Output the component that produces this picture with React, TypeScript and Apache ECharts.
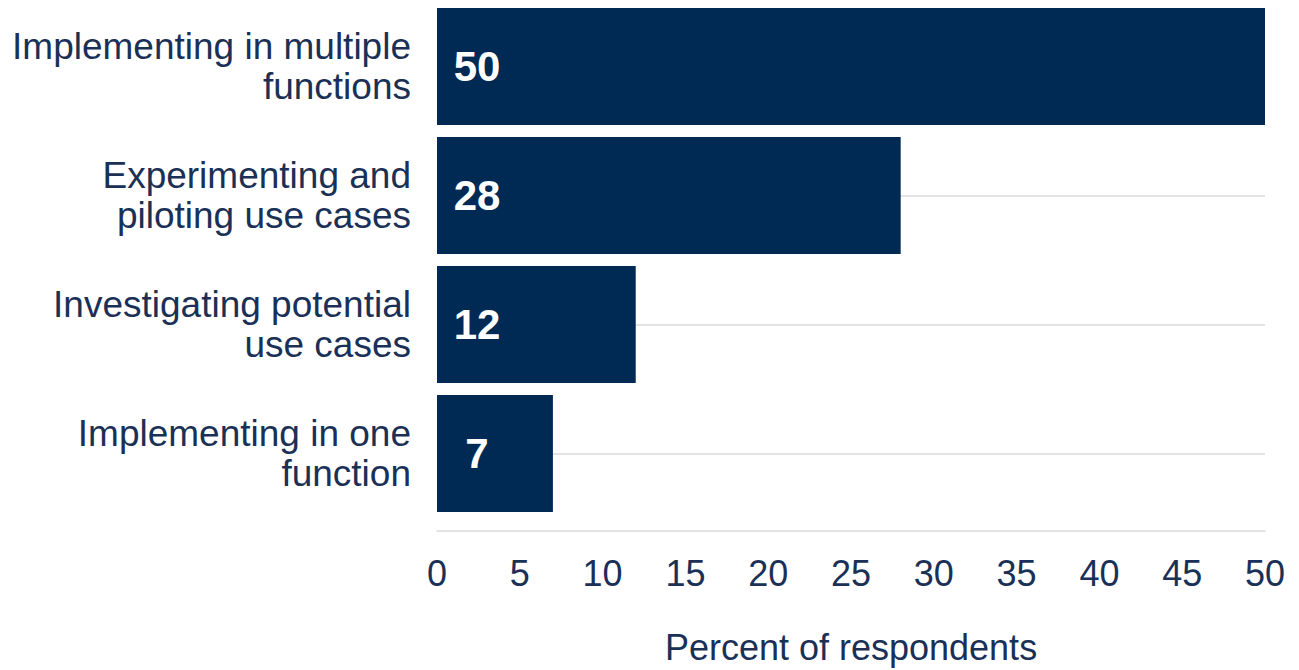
import React, { useEffect, useRef } from "react";
import * as echarts from "echarts";

const categories = [
  "Implementing in multiple\nfunctions",
  "Experimenting and\npiloting use cases",
  "Investigating potential\nuse cases",
  "Implementing in one\nfunction",
];
const values = [50, 28, 12, 7];
const xTicks = { min: 0, max: 50, interval: 5 };
const xName = "Percent of respondents";

const FONT = "'Liberation Sans', Arial, Helvetica, sans-serif";
const TEXT = "#1a3056";
const BAR = "#002a54";
const GRID = "#dadada";

export default function App() {
  const ref = useRef<HTMLDivElement>(null);
  useEffect(() => {
    if (!ref.current) return;
    const chart = echarts.init(ref.current, undefined, { renderer: "svg" });
    chart.setOption({
      animation: false,
      backgroundColor: "#ffffff",
      textStyle: { fontFamily: FONT },
      grid: { left: 437, right: 34, top: 2, bottom: 146, containLabel: false },
      xAxis: {
        type: "value",
        min: xTicks.min,
        max: xTicks.max,
        interval: xTicks.interval,
        offset: 13,
        name: xName,
        nameLocation: "middle",
        nameGap: 98,
        nameTextStyle: { color: TEXT, fontSize: 36, fontFamily: FONT },
        axisLine: { show: true, lineStyle: { color: GRID, width: 1.5 } },
        axisTick: { show: false },
        splitLine: { show: false },
        axisLabel: { color: TEXT, fontSize: 36, fontFamily: FONT, margin: 24 },
      },
      yAxis: {
        type: "category",
        inverse: true,
        data: categories,
        axisLine: { show: false },
        axisTick: { show: false },
        splitLine: { show: false },
        axisLabel: {
          color: TEXT,
          fontSize: 37,
          lineHeight: 40,
          fontFamily: FONT,
          margin: 26,
          align: "right",
        },
      },
      series: [
        {
          type: "line",
          data: [],
          z: 1,
          silent: true,
          markLine: {
            z: 1,
            silent: true,
            symbol: "none",
            label: { show: false },
            lineStyle: { color: GRID, width: 1.5, type: "solid" },
            data: categories.map((c) => ({ yAxis: c })),
          },
        },
        {
          type: "bar",
          data: values,
          z: 10,
          barWidth: 117,
          itemStyle: { color: BAR },
          label: {
            show: true,
            position: [40, "50%"],
            align: "center",
            verticalAlign: "middle",
            color: "#ffffff",
            fontSize: 42,
            fontWeight: "bold",
            fontFamily: FONT,
          },
        },
      ],
    });
    return () => chart.dispose();
  }, []);
  return (
    <div
      ref={ref}
      style={{ position: "fixed", left: 0, top: 0, width: 1299, height: 670 }}
    />
  );
}
